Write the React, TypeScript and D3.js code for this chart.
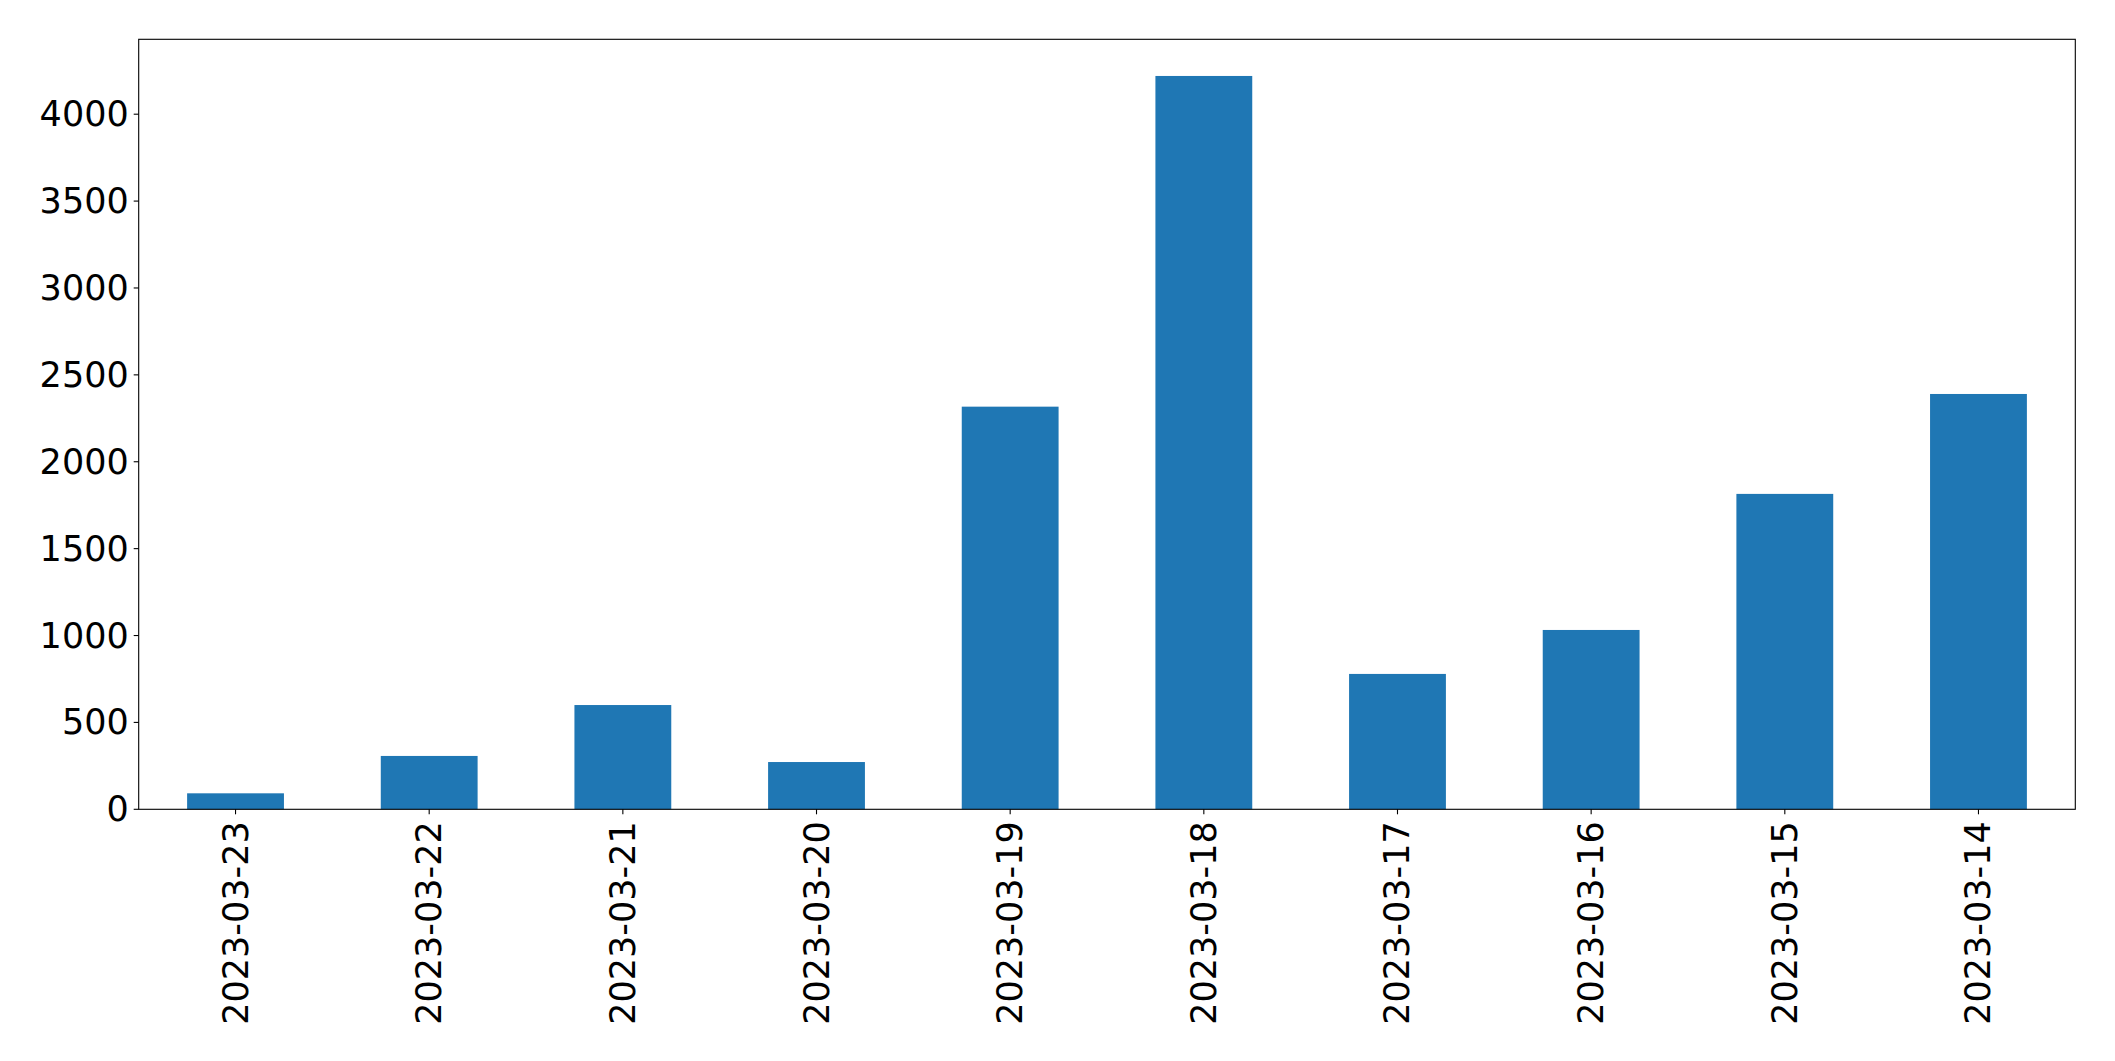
import React from "react";
import * as d3 from "d3";

const categories = [
  "2023-03-23", "2023-03-22", "2023-03-21", "2023-03-20", "2023-03-19",
  "2023-03-18", "2023-03-17", "2023-03-16", "2023-03-15", "2023-03-14",
];
const values = [92, 307, 600, 272, 2317, 4220, 779, 1032, 1815, 2390];
const yTicks = [0, 500, 1000, 1500, 2000, 2500, 3000, 3500, 4000];

const W = 2115;
const H = 1061;
const left = 138.7;
const right = 2075.3;
const top = 39.3;
const bottom = 809.3;
const FONT = "'DejaVu Sans', sans-serif";
const FS = 35;

export default function App() {
  const x = d3.scaleLinear().domain([-0.5, categories.length - 0.5]).range([left, right]);
  const yMax = d3.max(values)! * 1.05;
  const y = d3.scaleLinear().domain([0, yMax]).range([bottom, top]);
  const bw = 0.5;
  return (
    <svg width={W} height={H} style={{ position: "absolute", left: 0, top: 0, background: "#fff" }}>
      <rect x={0} y={0} width={W} height={H} fill="#fff" />
      {values.map((v, i) => (
        <rect
          key={i}
          x={x(i - bw / 2)}
          y={y(v)}
          width={x(i + bw / 2) - x(i - bw / 2)}
          height={y(0) - y(v)}
          fill="#1f77b4"
        />
      ))}
      <rect x={left} y={top} width={right - left} height={bottom - top} fill="none" stroke="#000" strokeWidth={1.1} />
      {yTicks.map((t) => (
        <g key={t}>
          <line x1={left - 5} x2={left} y1={y(t)} y2={y(t)} stroke="#000" strokeWidth={1.1} />
          <text x={left - 10} y={y(t)} textAnchor="end" dominantBaseline="central" fontFamily={FONT} fontSize={FS} fill="#000">
            {t}
          </text>
        </g>
      ))}
      {categories.map((c, i) => (
        <g key={c}>
          <line x1={x(i)} x2={x(i)} y1={bottom} y2={bottom + 5} stroke="#000" strokeWidth={1.1} />
          <text
            transform={`translate(${x(i)},${bottom + 12}) rotate(-90)`}
            textAnchor="end"
            dominantBaseline="central"
            fontFamily={FONT}
            fontSize={FS}
            fill="#000"
          >
            {c}
          </text>
        </g>
      ))}
    </svg>
  );
}
